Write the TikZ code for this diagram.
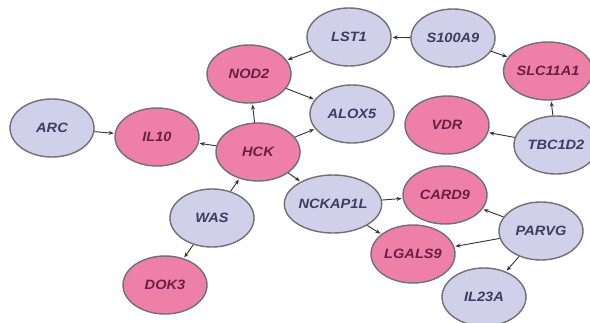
\documentclass[tikz,border=0pt]{standalone}
\usepackage{fontspec}
\setmainfont{Liberation Sans}
\usetikzlibrary{shapes.geometric,arrows.meta}
\definecolor{pinkfill}{RGB}{238,128,168}
\definecolor{lavfill}{RGB}{208,208,234}
\definecolor{rimgray}{RGB}{112,112,118}
\definecolor{pinktext}{RGB}{105,30,68}
\definecolor{lavtext}{RGB}{60,60,95}
\definecolor{edgegray}{RGB}{50,50,50}
\newcommand{\genelabel}[1]{\scalebox{1.08}[1]{\bfseries\itshape #1}}
\tikzset{
  gene/.style={ellipse, draw=rimgray, line width=1.4pt, minimum width=84pt,
    minimum height=58pt, inner sep=0pt, font=\fontsize{13.5}{14}\selectfont},
  pinkgene/.style={gene, fill=pinkfill, text=pinktext},
  lavgene/.style={gene, fill=lavfill, text=lavtext},
  link/.style={draw=edgegray, line width=0.9pt, -{Stealth[length=5pt,width=4pt]}, shorten >=1pt}
}
\begin{document}
\begin{tikzpicture}[x=1pt,y=-1pt]
\useasboundingbox (0,0) rectangle (590,322);
\fill[white] (0,0) rectangle (590,322);
% gene nodes
\node[lavgene]  (LST1)    at (349,37)  {\genelabel{LST1}};
\node[lavgene]  (S100A9)  at (453,38)  {\genelabel{S100A9}};
\node[pinkgene] (NOD2)    at (249,74)  {\genelabel{NOD2}};
\node[pinkgene] (SLC11A1) at (548,71)  {\genelabel{SLC11A1}};
\node[lavgene]  (ARC)     at (52,128)  {\genelabel{ARC}};
\node[pinkgene] (IL10)    at (157,137) {\genelabel{IL10}};
\node[lavgene]  (ALOX5)   at (352,114) {\genelabel{ALOX5}};
\node[pinkgene] (HCK)     at (258,152) {\genelabel{HCK}};
\node[pinkgene] (VDR)     at (447,125) {\genelabel{VDR}};
\node[lavgene]  (TBC1D2)  at (556,145) {\genelabel{TBC1D2}};
\node[lavgene]  (WAS)     at (212,218) {\genelabel{WAS}};
\node[lavgene]  (NCKAP1L) at (333,204) {\genelabel{NCKAP1L}};
\node[pinkgene] (CARD9)   at (445,195) {\genelabel{CARD9}};
\node[lavgene]  (PARVG)   at (541,231) {\genelabel{PARVG}};
\node[pinkgene] (LGALS9)  at (413,254) {\genelabel{LGALS9}};
\node[pinkgene] (DOK3)    at (165,285) {\genelabel{DOK3}};
\node[lavgene]  (IL23A)   at (484,297) {\genelabel{IL23A}};
% interactions
\draw[link] (S100A9) -- (LST1);
\draw[link] (LST1) -- (NOD2);
\draw[link] (NOD2) -- (ALOX5);
\draw[link] (S100A9) -- (SLC11A1);
\draw[link] (TBC1D2) -- (SLC11A1);
\draw[link] (TBC1D2) -- (VDR);
\draw[link] (ARC) -- (IL10);
\draw[link] (HCK) -- (IL10);
\draw[link] (HCK) -- (NOD2);
\draw[link] (HCK) -- (ALOX5);
\draw[link] (WAS) -- (HCK);
\draw[link] (WAS) -- (DOK3);
\draw[link] (HCK) -- (NCKAP1L);
\draw[link] (NCKAP1L) -- (CARD9);
\draw[link] (NCKAP1L) -- (LGALS9);
\draw[link] (PARVG) -- (CARD9);
\draw[link] (PARVG) -- (LGALS9);
\draw[link] (PARVG) -- (IL23A);
\end{tikzpicture}
\end{document}
